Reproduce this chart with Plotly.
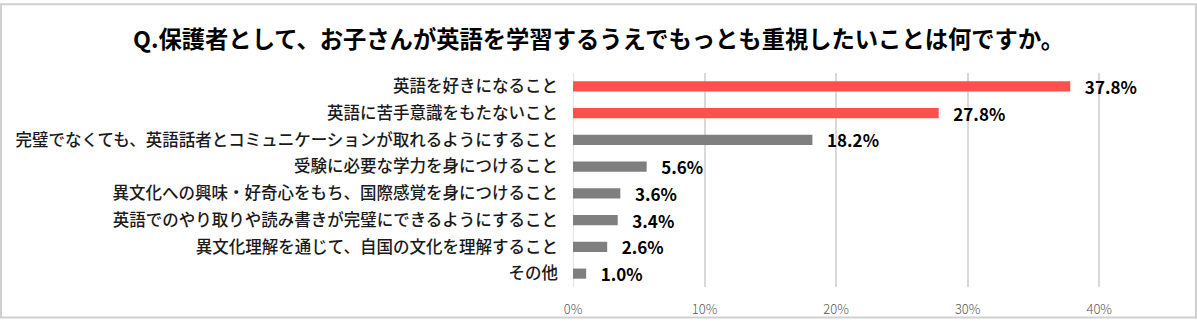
import plotly.graph_objects as go

# Survey results (share of respondents)
categories = [
    "英語を好きになること",
    "英語に苦手意識をもたないこと",
    "完璧でなくても、英語話者とコミュニケーションが取れるようにすること",
    "受験に必要な学力を身につけること",
    "異文化への興味・好奇心をもち、国際感覚を身につけること",
    "英語でのやり取りや読み書きが完璧にできるようにすること",
    "異文化理解を通じて、自国の文化を理解すること",
    "その他",
]
values = [37.8, 27.8, 18.2, 5.6, 3.6, 3.4, 2.6, 1.0]
bar_colors = ["#FF5050", "#FF5050", "#7F7F7F", "#7F7F7F", "#7F7F7F", "#7F7F7F", "#7F7F7F", "#7F7F7F"]
tick_vals = [0, 10, 20, 30, 40]
tick_text = ["0%", "10%", "20%", "30%", "40%"]
title_text = "Q.保護者として、お子さんが英語を学習するうえでもっとも重視したいことは何ですか。"

W, H = 1197, 330
L, R, T, B = 573, 32, 73, 33
pw, ph = W - L - R, H - T - B

JP = "Noto Sans CJK JP"

fig = go.Figure(
    go.Bar(
        x=values,
        y=categories,
        orientation="h",
        marker=dict(color=bar_colors, line=dict(width=0)),
        text=[f"   {v:.1f}%" for v in values],
        textposition="outside",
        constraintext="none",
        textfont=dict(family=JP, size=17, color="#000000", weight="bold"),
        cliponaxis=False,
        width=0.38,
    )
)

fig.update_layout(
    width=W,
    height=H,
    margin=dict(l=L, r=R, t=T, b=B, pad=0),
    paper_bgcolor="white",
    plot_bgcolor="white",
    showlegend=False,
    uniformtext=dict(mode=False),
    title=dict(
        text=title_text,
        x=0.5,
        xref="container",
        xanchor="center",
        y=1 - 40 / H,
        yref="container",
        yanchor="middle",
        font=dict(family=JP, size=23.3, color="#000000", weight="bold"),
    ),
    xaxis=dict(
        range=[0, 45],
        tickvals=tick_vals,
        ticktext=tick_text,
        showgrid=True,
        gridcolor="#D9D9D9",
        gridwidth=1.5,
        zeroline=False,
        showline=False,
        ticks="",
        tickfont=dict(family=JP, size=13, color="#595959", weight=300),
        ticklabelstandoff=13,
        fixedrange=True,
    ),
    yaxis=dict(
        autorange="reversed",
        showgrid=False,
        zeroline=False,
        showline=False,
        ticks="",
        ticklabelstandoff=14,
        tickfont=dict(family=JP, size=16.5, color="#1A1A1A", weight=500),
        fixedrange=True,
    ),
    shapes=[
        # outer chart frame
        dict(
            type="rect",
            xref="paper",
            yref="paper",
            x0=(1 - L) / pw,
            x1=(W - 1 - L) / pw,
            y0=(-B + 1) / ph,
            y1=(ph + T - 1) / ph,
            line=dict(color="#D0D0D0", width=2),
            fillcolor="rgba(0,0,0,0)",
            layer="below",
        ),
        # vertical axis line at 0
        dict(
            type="line",
            xref="x",
            yref="paper",
            x0=0,
            x1=0,
            y0=0,
            y1=1,
            line=dict(color="#D9D9D9", width=1.5),
            layer="below",
        ),
    ],
)

fig.write_html("out.html")
